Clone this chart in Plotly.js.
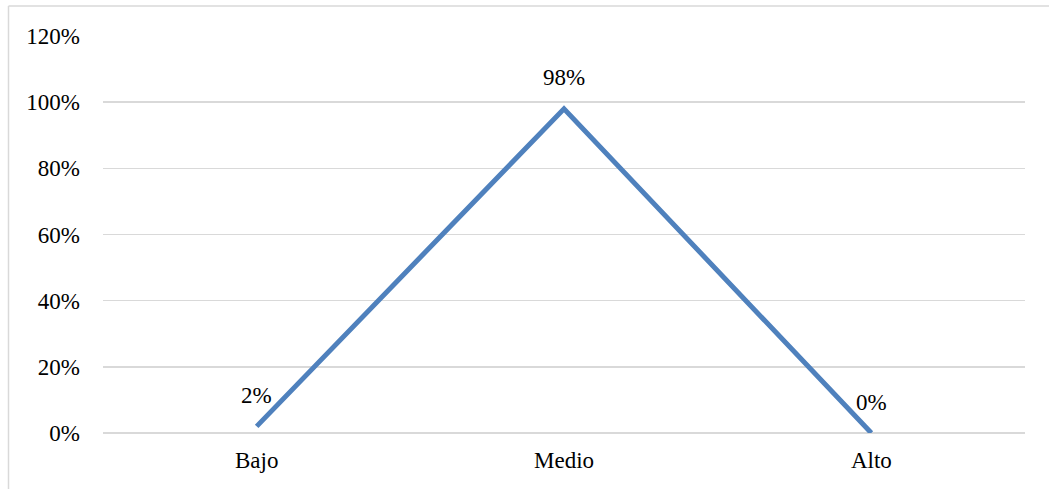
<!DOCTYPE html>
<html>
<head>
<meta charset="utf-8">
<script src="https://cdn.plot.ly/plotly-3.0.1.min.js"></script>
<style>
  html, body { margin: 0; padding: 0; background: #ffffff; }
  #chart { width: 1049px; height: 489px; }
</style>
</head>
<body>
<div id="chart"></div>
<script>
const categories = ["Bajo", "Medio", "Alto"];
const values = [0.02, 0.98, 0.0];
const valueLabels = ["2%", "98%", "0%"];
const yTickValues = [0, 0.2, 0.4, 0.6, 0.8, 1.0, 1.2];
const yTickLabels = ["0%", "20%", "40%", "60%", "80%", "100%", "120%"];

const fontFamily = "Liberation Serif, Times New Roman, serif";
const fs = 23;

const trace = {
  x: categories,
  y: values,
  type: "scatter",
  mode: "lines",
  line: { color: "#4F81BD", width: 5 },
  cliponaxis: false,
  hoverinfo: "skip"
};

const L = 103, R = 24, T = 36, B = 56, W = 1049, H = 489;
const pw = W - L - R, ph = H - T - B;

const annotations = categories.map((c, i) => ({
  x: c, y: values[i], xref: "x", yref: "y",
  text: valueLabels[i], showarrow: false,
  xanchor: "center", yanchor: "middle", yshift: 31,
  font: { family: fontFamily, size: fs, color: "#000000" }
}));

const layout = {
  width: W,
  height: H,
  margin: { l: L, r: R, t: T, b: B, pad: 0 },
  paper_bgcolor: "#ffffff",
  plot_bgcolor: "#ffffff",
  showlegend: false,
  font: { family: fontFamily, size: fs, color: "#000000" },
  xaxis: {
    type: "category",
    range: [-0.5, 2.5],
    showgrid: false,
    zeroline: false,
    showline: false,
    ticks: "",
    ticklabelstandoff: 11,
    tickfont: { family: fontFamily, size: fs, color: "#000000" },
    fixedrange: true
  },
  yaxis: {
    range: [0, 1.2001],
    tickvals: yTickValues,
    ticktext: yTickLabels,
    showgrid: true,
    gridcolor: "#d9d9d9",
    gridwidth: 1.5,
    zeroline: true,
    zerolinecolor: "#d9d9d9",
    zerolinewidth: 1.5,
    showline: false,
    ticks: "",
    ticklabelstandoff: 22,
    tickfont: { family: fontFamily, size: fs, color: "#000000" },
    fixedrange: true
  },
  annotations: annotations,
  shapes: [
    {
      type: "line", xref: "paper", yref: "paper",
      x0: (8.5 - L) / pw, x1: (8.5 - L) / pw,
      y0: (-B - 10) / ph, y1: (H - B - 6) / ph,
      line: { color: "#d9d9d9", width: 1.5 }, layer: "below"
    },
    {
      type: "line", xref: "paper", yref: "paper",
      x0: (8.5 - L) / pw, x1: (W + 10 - L) / pw,
      y0: (H - B - 6) / ph, y1: (H - B - 6) / ph,
      line: { color: "#d9d9d9", width: 1.5 }, layer: "below"
    }
  ]
};

Plotly.newPlot("chart", [trace], layout, { displayModeBar: false, staticPlot: true });
</script>
</body>
</html>
